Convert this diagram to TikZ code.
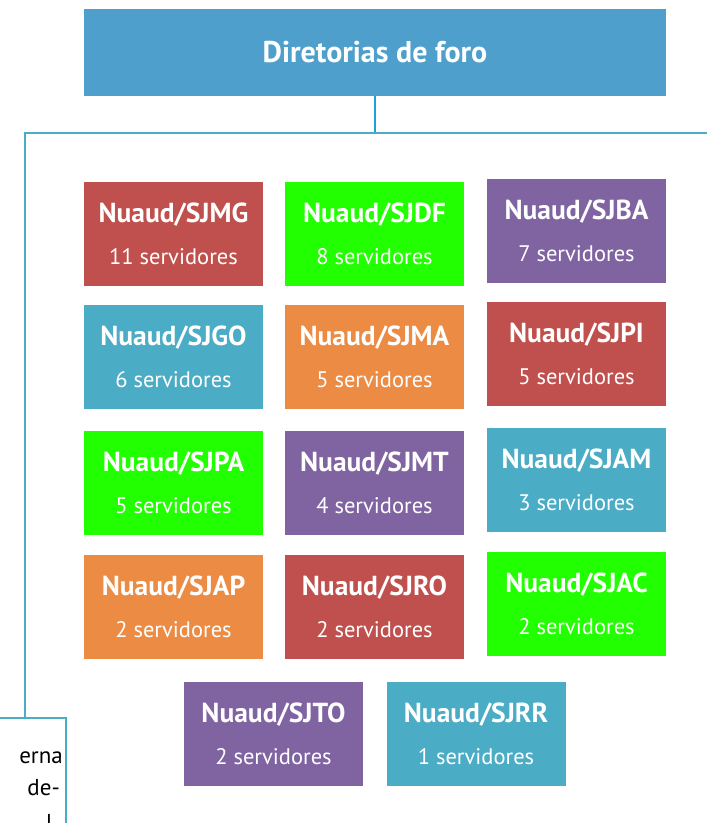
\documentclass[tikz,border=0pt]{standalone}
\usepackage{fontspec}
\setmainfont{PT Sans}
\definecolor{cred}{HTML}{C0504D}
\definecolor{cgreen}{HTML}{22FF00}
\definecolor{cpurple}{HTML}{8064A2}
\definecolor{cblue}{HTML}{4BACC6}
\definecolor{corange}{HTML}{EB8B44}
\definecolor{ctop}{HTML}{4F9FCC}
\definecolor{cline}{HTML}{4BACC6}
\definecolor{cstem}{HTML}{1EA0DC}
\tikzset{
  x=1pt, y=-1pt,
  unit/.style={fill=#1, draw=none, text=white, minimum width=179pt, minimum height=104pt,
    inner sep=0pt, align=center, font=\fontsize{22.5}{42}\selectfont},
  link/.style={draw=cline, line width=2pt},
  cuttxt/.style={anchor=base east, inner sep=0pt, font=\fontsize{23}{23}\selectfont},
}
\newcommand{\unitlabel}[2]{{\bfseries\fontsize{27.5}{27.5}\selectfont #1}\\#2}
\begin{document}
\begin{tikzpicture}
\useasboundingbox (0,0) rectangle (707,823);
\clip (0,0) rectangle (707,823);
\node[fill=ctop, text=white, minimum width=582pt, minimum height=87pt, inner sep=0pt,
  font=\bfseries\fontsize{30}{30}\selectfont] (top) at (375,52.5) {Diretorias de foro};
\node[unit=cred]    (sjmg) at (173.5,234) {\unitlabel{Nuaud/SJMG}{11 servidores}};
\node[unit=cgreen]  (sjdf) at (374.5,234) {\unitlabel{Nuaud/SJDF}{8 servidores}};
\node[unit=cpurple] (sjba) at (576.5,231) {\unitlabel{Nuaud/SJBA}{7 servidores}};
\node[unit=cblue]   (sjgo) at (173.5,357) {\unitlabel{Nuaud/SJGO}{6 servidores}};
\node[unit=corange] (sjma) at (374.5,357) {\unitlabel{Nuaud/SJMA}{5 servidores}};
\node[unit=cred]    (sjpi) at (576.5,354) {\unitlabel{Nuaud/SJPI}{5 servidores}};
\node[unit=cgreen]  (sjpa) at (173.5,483) {\unitlabel{Nuaud/SJPA}{5 servidores}};
\node[unit=cpurple] (sjmt) at (374.5,483) {\unitlabel{Nuaud/SJMT}{4 servidores}};
\node[unit=cblue]   (sjam) at (576.5,480) {\unitlabel{Nuaud/SJAM}{3 servidores}};
\node[unit=corange] (sjap) at (173.5,607) {\unitlabel{Nuaud/SJAP}{2 servidores}};
\node[unit=cred]    (sjro) at (374.5,607) {\unitlabel{Nuaud/SJRO}{2 servidores}};
\node[unit=cgreen]  (sjac) at (576.5,604) {\unitlabel{Nuaud/SJAC}{2 servidores}};
\node[unit=cpurple] (sjto) at (273.5,734) {\unitlabel{Nuaud/SJTO}{2 servidores}};
\node[unit=cblue]   (sjrr) at (476,734) {\unitlabel{Nuaud/SJRR}{1 servidores}};
% cut-off box at bottom left
\node[draw=cline, line width=2pt, fill=white, minimum width=90pt, minimum height=130pt,
  anchor=north east, inner sep=0pt] (cut) at (67,717) {};
\node[cuttxt] (cuttext1) at (63,763) {erna};
\node[cuttxt] (cuttext2) at (60,795) {de-};
\node[cuttxt] (cuttext3) at (53,830) {l};
\coordinate (hl) at (25,133);
\coordinate (hr) at (710,133);
\draw[draw=cstem, line width=2pt] (top.south) -- (top.south |- hl);
\draw[link] (hr) -- (hl) -- (hl |- cut.north);
\end{tikzpicture}
\end{document}
